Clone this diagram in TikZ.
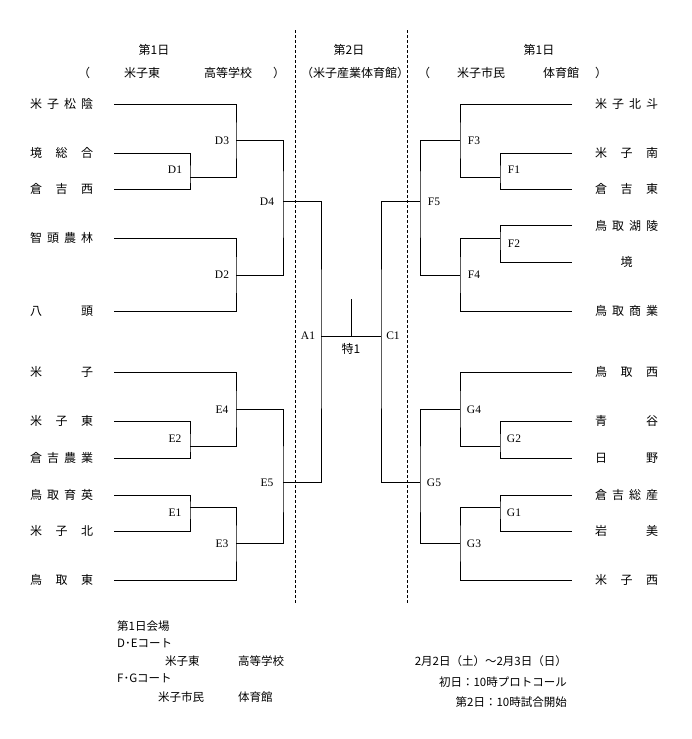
\documentclass[tikz,border=0pt]{standalone}
\usepackage{fontspec}
\setmainfont{Liberation Serif}
\newfontfamily\jpfont{Noto Sans CJK JP}
\tikzset{
  jp/.style={font=\jpfont\fontsize{12}{14}\selectfont, inner sep=0pt},
  jps/.style={font=\jpfont\fontsize{11.5}{13}\selectfont, inner sep=0pt},
  lab/.style={font=\fontsize{11.5}{13}\selectfont, inner sep=0pt},
  br/.style={line width=1pt, black},
  sep/.style={line width=1pt, dash pattern=on 3pt off 2pt}
}
\newcommand\tname[5]{%
  \foreach \ch [count=\i] in {#5} {\xdef\tncount{\i}}%
  \foreach \ch [count=\i] in {#5} {%
    \ifnum\tncount=1 \pgfmathsetmacro\tnx{(#2+#3)/2}\else\pgfmathsetmacro\tnx{#2+(#3-#2)*(\i-1)/(\tncount-1)}\fi
    \node[jp] (#1-\i) at (\tnx,#4) {\ch};
  }%
}
\begin{document}
\begin{tikzpicture}[x=1pt,y=-1pt]
\useasboundingbox (0,0) rectangle (692,739);
\fill[white] (0,0) rectangle (692,739);

% separators
\coordinate (s1t) at (295,30); \coordinate (s1b) at (295,604);
\coordinate (s2t) at (407,30); \coordinate (s2b) at (407,604);
\draw[sep] (s1t) -- (s1b);
\draw[sep] (s2t) -- (s2b);

% headers
\node[jp] (hL1) at (154,50) {第1日};
\node[jp] (hLa) at (84,73) {（};
\node[jp] (hLb) at (142,73) {米子東};
\node[jp] (hLc) at (228,73) {高等学校};
\node[jp] (hLd) at (279,73) {）};
\node[jp] (hC1) at (349,50) {第2日};
\node[jp] (hC2) at (355,73) {（米子産業体育館）};
\node[jp] (hR1) at (539,50) {第1日};
\node[jp] (hRa) at (424,73) {（};
\node[jp] (hRb) at (481,73) {米子市民};
\node[jp] (hRc) at (561,73) {体育館};
\node[jp] (hRd) at (601,73) {）};

% left team names
\tname{nL1}{36}{87}{104}{米,子,松,陰}
\tname{nL2}{36}{87}{153}{境,総,合}
\tname{nL3}{36}{87}{189}{倉,吉,西}
\tname{nL4}{36}{87}{238}{智,頭,農,林}
\tname{nL5}{36}{87}{311}{八,頭}
\tname{nL6}{36}{87}{372}{米,子}
\tname{nL7}{36}{87}{421}{米,子,東}
\tname{nL8}{36}{87}{458}{倉,吉,農,業}
\tname{nL9}{36}{87}{495}{鳥,取,育,英}
\tname{nL10}{36}{87}{531}{米,子,北}
\tname{nL11}{36}{87}{580}{鳥,取,東}

% right team names
\tname{nR1}{601}{652}{104}{米,子,北,斗}
\tname{nR2}{601}{652}{153}{米,子,南}
\tname{nR3}{601}{652}{189}{倉,吉,東}
\tname{nR4}{601}{652}{226}{鳥,取,湖,陵}
\tname{nR5}{601}{652}{262}{境}
\tname{nR6}{601}{652}{311}{鳥,取,商,業}
\tname{nR7}{601}{652}{372}{鳥,取,西}
\tname{nR8}{601}{652}{421}{青,谷}
\tname{nR9}{601}{652}{458}{日,野}
\tname{nR10}{601}{652}{495}{倉,吉,総,産}
\tname{nR11}{601}{652}{531}{岩,美}
\tname{nR12}{601}{652}{580}{米,子,西}

% left line ends
\coordinate (l1) at (114,104);
\coordinate (l2) at (114,153);
\coordinate (l3) at (114,189);
\coordinate (l4) at (114,238);
\coordinate (l5) at (114,311);
\coordinate (l6) at (114,372);
\coordinate (l7) at (114,421);
\coordinate (l8) at (114,458);
\coordinate (l9) at (114,495);
\coordinate (l10) at (114,531);
\coordinate (l11) at (114,580);
% right line ends
\coordinate (r1) at (572,104);
\coordinate (r2) at (572,153);
\coordinate (r3) at (572,189);
\coordinate (r4) at (572,225);
\coordinate (r5) at (572,262);
\coordinate (r6) at (572,311);
\coordinate (r7) at (572,372);
\coordinate (r8) at (572,421);
\coordinate (r9) at (572,458);
\coordinate (r10) at (572,495);
\coordinate (r11) at (572,531);
\coordinate (r12) at (572,580);

% match points
\coordinate (mD1) at (190,177);
\coordinate (mD3) at (236,140);
\coordinate (mD2) at (236,275);
\coordinate (mD4) at (283,201);
\coordinate (mE2) at (190,446);
\coordinate (mE4) at (236,409);
\coordinate (mE1) at (190,507);
\coordinate (mE3) at (236,543);
\coordinate (mE5) at (283,482);
\coordinate (mA1) at (321,336);
\coordinate (mC1) at (381,336);
\coordinate (mF1) at (500,177);
\coordinate (mF3) at (460,140);
\coordinate (mF2) at (500,238);
\coordinate (mF4) at (460,275);
\coordinate (mF5) at (420,201);
\coordinate (mG2) at (500,446);
\coordinate (mG4) at (460,409);
\coordinate (mG1) at (500,507);
\coordinate (mG3) at (460,543);
\coordinate (mG5) at (420,482);
\coordinate (mT1) at (351,299);

% left bracket
\draw[br] (l2) -| (mD1) |- (l3);
\draw[br] (l1) -| (mD3) |- (mD1);
\draw[br] (l4) -| (mD2) |- (l5);
\draw[br] (mD3) -| (mD4) |- (mD2);
\draw[br] (l7) -| (mE2) |- (l8);
\draw[br] (l6) -| (mE4) |- (mE2);
\draw[br] (l9) -| (mE1) |- (l10);
\draw[br] (mE1) -| (mE3) |- (l11);
\draw[br] (mE4) -| (mE5) |- (mE3);
\draw[br] (mD4) -| (mA1) |- (mE5);
% center
\draw[br] (mA1) -- (mC1);
\draw[br] (mT1) -- (mT1 |- mA1);
% right bracket
\draw[br] (mF5) -| (mC1) |- (mG5);
\draw[br] (r2) -| (mF1) |- (r3);
\draw[br] (r1) -| (mF3) |- (mF1);
\draw[br] (r4) -| (mF2) |- (r5);
\draw[br] (mF2) -| (mF4) |- (r6);
\draw[br] (mF3) -| (mF5) |- (mF4);
\draw[br] (r8) -| (mG2) |- (r9);
\draw[br] (r7) -| (mG4) |- (mG2);
\draw[br] (r10) -| (mG1) |- (r11);
\draw[br] (mG1) -| (mG3) |- (r12);
\draw[br] (mG4) -| (mG5) |- (mG3);

% match labels
\node[lab] (D1) at (175,170) {D1};
\node[lab] (D3) at (222,141) {D3};
\node[lab] (D4) at (267,202) {D4};
\node[lab] (D2) at (222,275) {D2};
\node[lab] (E4) at (222,410) {E4};
\node[lab] (E2) at (175,439) {E2};
\node[lab] (E5) at (267,483) {E5};
\node[lab] (E1) at (175,513) {E1};
\node[lab] (E3) at (222,544) {E3};
\node[lab] (A1) at (308,336) {A1};
\node[lab] (C1) at (393,336) {C1};
\node[jp] (T1) at (351,349) {特1};
\node[lab] (F3) at (474,141) {F3};
\node[lab] (F1) at (514,170) {F1};
\node[lab] (F5) at (434,202) {F5};
\node[lab] (F2) at (514,244) {F2};
\node[lab] (F4) at (474,275) {F4};
\node[lab] (G4) at (474,410) {G4};
\node[lab] (G2) at (514,439) {G2};
\node[lab] (G5) at (434,483) {G5};
\node[lab] (G1) at (514,513) {G1};
\node[lab] (G3) at (474,544) {G3};

% bottom notes
\node[jps, anchor=west] (b1) at (117,626) {第1日会場};
\node[jps, anchor=west] (b2) at (117,643) {D･Eコート};
\node[jps, anchor=west] (b3) at (165,661) {米子東};
\node[jps, anchor=west] (b4) at (238,661) {高等学校};
\node[jps, anchor=west] (b5) at (117,678) {F･Gコート};
\node[jps, anchor=west] (b6) at (158,697) {米子市民};
\node[jps, anchor=west] (b7) at (238,697) {体育館};

\node[jps, anchor=east] (c1) at (567,661) {2月2日（土）～2月3日（日）};
\node[jps, anchor=east] (c2) at (567,682) {初日：10時プロトコール};
\node[jps, anchor=east] (c3) at (567,702) {第2日：10時試合開始};
\end{tikzpicture}
\end{document}
